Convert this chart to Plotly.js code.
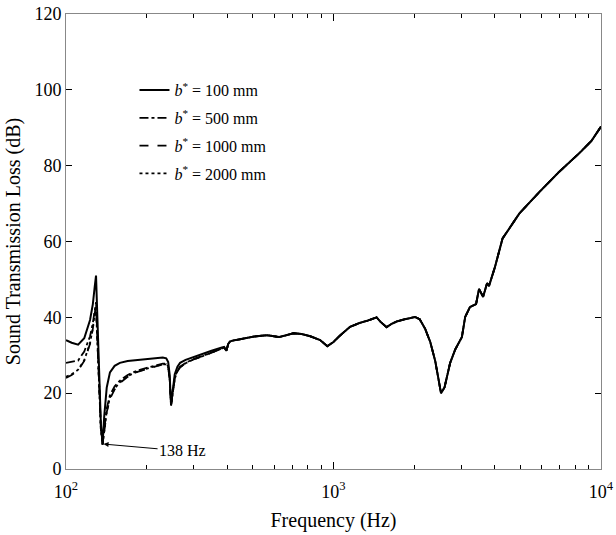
<!DOCTYPE html>
<html>
<head>
<meta charset="utf-8">
<script src="https://cdn.plot.ly/plotly-3.0.1.min.js"></script>
<style>html,body{margin:0;padding:0;background:#fff;}#chart{width:616px;height:535px;}</style>
</head>
<body>
<div id="chart"></div>
<script>
// Frequency samples (Hz)
const freq = [100,105,111,117,123,126,128,129.5,131,133,135,137,139,142,146,152,159,170,185,200,215,230,237,241,244,247,250,255,261,267,280,300,320,350,380,390,398,404,410,416,447,500,563,627,660,708,760,820,891,948,1000,1050,1153,1250,1350,1449,1500,1580,1650,1722,1850,2018,2100,2200,2300,2400,2523,2600,2730,2850,3020,3106,3236,3412,3500,3625,3750,3815,4015,4160,4285,4955,5890,6980,8300,9200,10000];

// Sound transmission loss (dB) for each b*
const stl100 = [34.0,33.3,32.8,34.5,39.3,43.5,48.0,51.0,40.0,25.0,12.0,6.6,14.0,21.5,25.5,27.2,28.0,28.5,28.8,29.0,29.2,29.4,29.2,28.2,25.0,16.8,20.0,25.0,27.0,28.0,28.8,29.6,30.2,31.2,32.0,32.2,31.3,33.0,33.6,33.8,34.2,34.9,35.3,34.8,35.2,35.8,35.6,35.0,34.0,32.4,33.5,35.0,37.5,38.5,39.2,40.0,38.8,37.4,38.3,38.9,39.5,40.1,39.5,37.0,33.5,28.5,20.0,21.5,28.0,31.5,34.8,40.1,42.7,43.5,47.5,45.4,49.0,48.3,53.3,57.8,60.8,67.4,73.1,78.4,83.3,86.5,90.3];
const stl500 = [28.0,28.2,28.6,31.0,35.0,38.5,42.0,44.0,35.0,22.0,11.0,6.5,11.0,16.0,19.5,21.8,23.3,24.8,26.0,26.7,27.3,27.8,27.8,27.0,24.0,16.8,19.5,24.0,26.0,27.0,28.0,29.0,29.7,30.8,31.7,32.0,31.2,33.0,33.6,33.8,34.2,34.9,35.3,34.8,35.2,35.8,35.6,35.0,34.0,32.4,33.5,35.0,37.5,38.5,39.2,40.0,38.8,37.4,38.3,38.9,39.5,40.1,39.5,37.0,33.5,28.5,20.0,21.5,28.0,31.5,34.8,40.1,42.7,43.5,47.5,45.4,49.0,48.3,53.3,57.8,60.8,67.4,73.1,78.4,83.3,86.5,90.3];
const stl1000 = [24.0,24.8,26.0,28.5,33.0,37.0,41.0,43.0,34.0,21.0,10.5,6.4,10.0,15.0,18.5,21.0,22.7,24.3,25.6,26.4,27.0,27.6,27.6,26.8,23.8,16.8,19.3,23.8,25.8,26.8,27.9,28.9,29.6,30.8,31.7,32.0,31.2,33.0,33.6,33.8,34.2,34.9,35.3,34.8,35.2,35.8,35.6,35.0,34.0,32.4,33.5,35.0,37.5,38.5,39.2,40.0,38.8,37.4,38.3,38.9,39.5,40.1,39.5,37.0,33.5,28.5,20.0,21.5,28.0,31.5,34.8,40.1,42.7,43.5,47.5,45.4,49.0,48.3,53.3,57.8,60.8,67.4,73.1,78.4,83.3,86.5,90.3];
const stl2000 = [24.3,25.0,26.2,28.7,33.2,37.2,41.0,42.5,33.5,21.0,10.5,6.4,10.2,15.2,18.8,21.2,22.9,24.5,25.7,26.5,27.1,27.6,27.6,26.8,23.8,16.8,19.3,23.8,25.8,26.8,27.9,28.9,29.6,30.8,31.7,32.0,31.2,33.0,33.6,33.8,34.2,34.9,35.3,34.8,35.2,35.8,35.6,35.0,34.0,32.4,33.5,35.0,37.5,38.5,39.2,40.0,38.8,37.4,38.3,38.9,39.5,40.1,39.5,37.0,33.5,28.5,20.0,21.5,28.0,31.5,34.8,40.1,42.7,43.5,47.5,45.4,49.0,48.3,53.3,57.8,60.8,67.4,73.1,78.4,83.3,86.5,90.3];

const seriesNames = ['<i>b</i><sup>*</sup> = 100 mm','<i>b</i><sup>*</sup> = 500 mm','<i>b</i><sup>*</sup> = 1000 mm','<i>b</i><sup>*</sup> = 2000 mm'];
const xTickVals = [100,1000,10000];
const xTickText = ['10<sup>2</sup>','10<sup>3</sup>','10<sup>4</sup>'];
const xMinorVals = [200,300,400,500,600,700,800,900,2000,3000,4000,5000,6000,7000,8000,9000];
const yTickVals = [0,20,40,60,80,100,120];
const annFreq = 137, annValue = 6.6, annText = '138 Hz';

const font = 'Liberation Serif, Times New Roman, serif';
const styles = [
  {dash:'solid', width:2},
  {dash:'dashdot', width:1.8},
  {dash:'dash', width:1.8},
  {dash:'dot', width:1.8}
];
const allSeries = [stl100, stl500, stl1000, stl2000];
const traces = allSeries.map((s,i)=>({
  x: freq, y: s, type:'scatter', mode:'lines', name: seriesNames[i],
  legendgroup: 'g'+i,
  line:{color:'#000', dash: styles[i].dash, width: styles[i].width}
}));

const layout = {
  width:616, height:535,
  margin:{l:66, r:15, t:14, b:66},
  paper_bgcolor:'#fff', plot_bgcolor:'#fff',
  font:{family:font, size:18, color:'#000'},
  showlegend:true,
  legend:{x:0.128, y:0.87, xanchor:'left', yanchor:'top', bgcolor:'rgba(0,0,0,0)',
          font:{family:font, size:16, color:'#000'}, traceorder:'grouped', tracegroupgap:4, itemwidth:30},
  xaxis:{type:'log', range:[2,4], tickmode:'array', tickvals:xTickVals, ticktext:xTickText,
         ticks:'inside', ticklen:7, tickcolor:'#000', showline:true, linecolor:'#888', linewidth:1,
         mirror:'ticks', showgrid:false, zeroline:false, ticklabelstandoff:6,
         minor:{tickmode:'array', tickvals:xMinorVals, ticks:'inside', ticklen:4, tickcolor:'#000', showgrid:false},
         tickfont:{family:font, size:18},
         title:{text:'Frequency (Hz)', font:{family:font, size:20}, standoff:12}},
  yaxis:{range:[0,120], tickmode:'array', tickvals:yTickVals, ticks:'inside', ticklen:6, tickcolor:'#000',
         showline:true, linecolor:'#888', linewidth:1, mirror:'ticks', showgrid:false, zeroline:false,
         tickfont:{family:font, size:18},
         title:{text:'Sound Transmission Loss (dB)', font:{family:font, size:20}, standoff:8}},
  annotations:[{x:Math.log10(annFreq), y:annValue, xref:'x', yref:'y', text:annText,
     showarrow:true, arrowhead:2, arrowsize:1, arrowwidth:1, arrowcolor:'#000', ax:80, ay:7,
     font:{family:font, size:16, color:'#000'}, standoff:1}]
};
Plotly.newPlot('chart', traces, layout, {displayModeBar:false, staticPlot:true});
</script>
</body>
</html>
